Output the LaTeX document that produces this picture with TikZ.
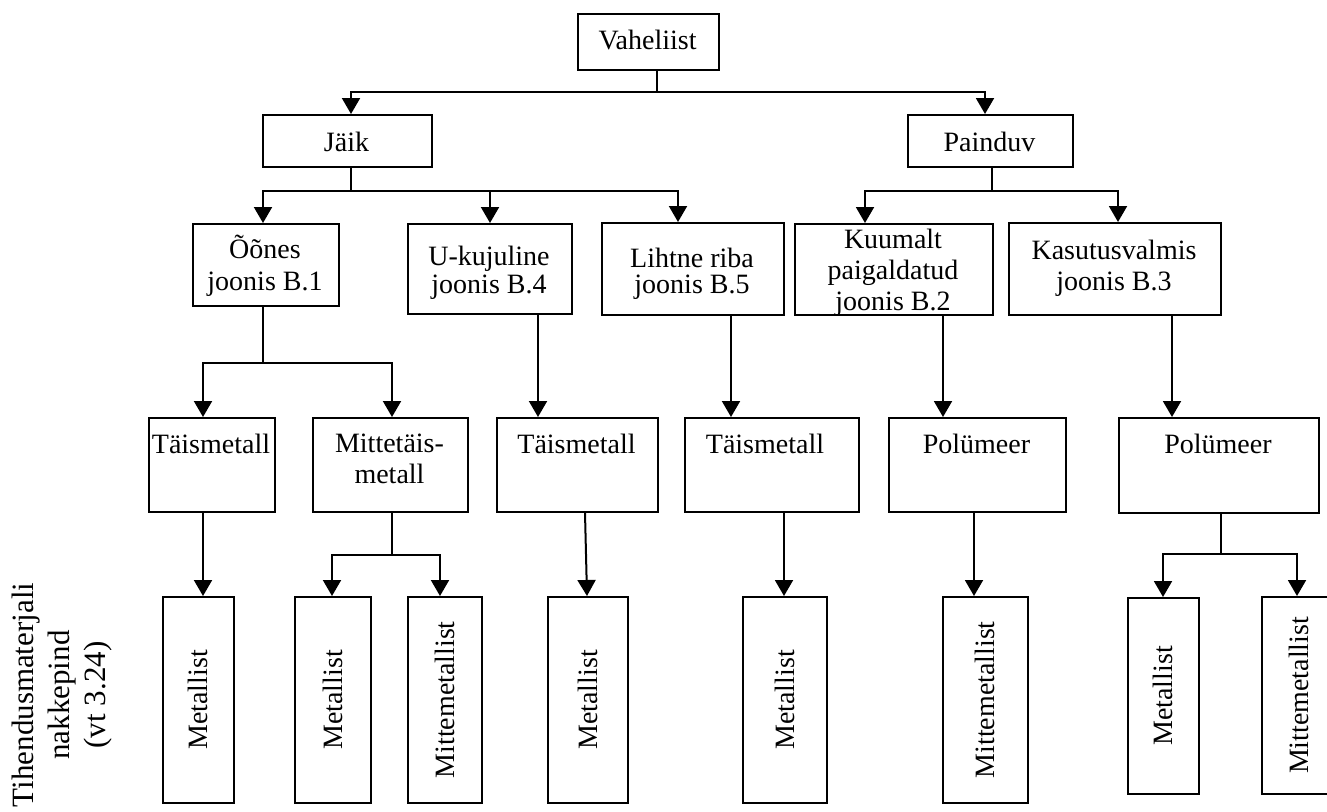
\documentclass[tikz,border=0pt]{standalone}
\usepackage{fontspec}
\setmainfont{Liberation Serif}
\usetikzlibrary{arrows.meta,calc}
\tikzset{
  bx/.style={draw, line width=1.8pt, inner sep=0pt},
  tx/.style={inner sep=0pt, align=center, font=\fontsize{28}{31}\selectfont},
  ln/.style={line width=1.8pt},
  ar/.style={line width=2pt, -{Triangle[width=18pt,length=16pt]}},
}
\newcommand\bxx[6]{\node[bx,minimum width={#4-#2},minimum height={#5-#3},anchor=north west] (#1) at (#2,#3) {#6};}
\newcommand\vtxt[1]{\fontsize{28}{31}\selectfont\rotatebox{90}{#1}}
\begin{document}
\begin{tikzpicture}[x=1pt,y=-1pt]
\useasboundingbox (0,0) rectangle (1327,811);
% ---------- boxes ----------
\bxx{vah}{577}{13}{718}{69}{}
\bxx{jaik}{262}{114}{431}{166}{}
\bxx{pain}{907}{114}{1072}{166}{}
\bxx{oon}{192}{223}{338}{305}{}
\bxx{uk}{407}{223}{571}{313}{}
\bxx{lr}{601}{222}{783}{314}{}
\bxx{kuu}{794}{223}{992}{314}{}
\bxx{kas}{1008}{222}{1220}{314}{}
\bxx{t1}{148}{417}{274}{511}{}
\bxx{mt}{312}{417}{467}{511}{}
\bxx{t3}{496}{417}{657}{511}{}
\bxx{t4}{684}{417}{858}{511}{}
\bxx{p5}{888}{417}{1065}{511}{}
\bxx{p6}{1118}{417}{1318}{512}{}
\bxx{m1}{162}{596}{233}{802}{\vtxt{Metallist}}
\bxx{m2}{294}{596}{370}{802}{\vtxt{Metallist}}
\bxx{mm1}{407}{596}{481}{802}{\vtxt{Mittemetallist}}
\bxx{m3}{547}{596}{627}{802}{\vtxt{Metallist}}
\bxx{m4}{742}{596}{826}{802}{\vtxt{Metallist}}
\bxx{mm2}{942}{596}{1027}{802}{\vtxt{Mittemetallist}}
\bxx{m5}{1127}{597}{1198}{793}{\vtxt{Metallist}}
\bxx{mm3}{1261}{596}{1335}{793}{\vtxt{Mittemetallist}}
% ---------- box texts (anchor base = last line) ----------
\node[tx,anchor=base] (vah-t) at (647.5,49) {Vaheliist};
\node[tx,anchor=base] (jaik-t) at (346.5,151) {Jäik};
\node[tx,anchor=base] (pain-t) at (989.5,151) {Painduv};
\node[tx,anchor=base,font=\fontsize{28}{32}\selectfont] (oon-t) at (265,290) {Õõnes\\joonis B.1};
\node[tx,anchor=base,font=\fontsize{28}{28}\selectfont] (uk-t) at (489,293) {U-kujuline\\joonis B.4};
\node[tx,anchor=base,font=\fontsize{28}{26}\selectfont] (lr-t) at (692,293) {Lihtne riba\\joonis B.5};
\begin{scope}
\clip (794,223) rectangle (992,314);
\node[tx,anchor=base] (kuu-t) at (893,310) {Kuumalt\\paigaldatud\\joonis B.2};
\end{scope}
\node[tx,anchor=base] (kas-t) at (1114,290) {Kasutusvalmis\\joonis B.3};
\node[tx,anchor=base] (t1-t) at (211,453) {Täismetall};
\node[tx,anchor=base] (mt-t) at (389.5,483) {Mittetäis-\\metall};
\node[tx,anchor=base] (t3-t) at (576.5,453) {Täismetall};
\node[tx,anchor=base] (t4-t) at (765,453) {Täismetall};
\node[tx,anchor=base] (p5-t) at (976.5,453) {Polümeer};
\node[tx,anchor=base] (p6-t) at (1218,453) {Polümeer};
% left label
\node[inner sep=0pt, align=center, rotate=90, font=\fontsize{31}{36}\selectfont] (side) at (62,695) {Tihendusmaterjali\\nakkepind\\(vt 3.24)};
% ---------- junction x positions ----------
\coordinate (jV) at (657,92);
\coordinate (jJ) at (351,191);
\coordinate (jP) at (992,191);
\coordinate (jO) at (263,363);
\coordinate (jM) at (392,555);
\coordinate (jQ) at (1221,554);
\coordinate (xa) at (351,0);
\coordinate (xb) at (985,0);
\coordinate (xc) at (490,0);
\coordinate (xd) at (678,0);
\coordinate (xe) at (865,0);
\coordinate (xf) at (1118,0);
\coordinate (xg) at (203,0);
\coordinate (xh) at (538,0);
\coordinate (xi) at (731,0);
\coordinate (xj) at (943,0);
\coordinate (xk) at (1172,0);
\coordinate (xl) at (585,0);
\coordinate (xl2) at (587,0);
\coordinate (xm) at (784,0);
\coordinate (xn) at (974,0);
\coordinate (xo) at (332,0);
\coordinate (xp) at (440,0);
\coordinate (xq) at (1163,0);
\coordinate (xr) at (1297,0);
% ---------- connectors ----------
\draw[ln, line width=1.5pt] (vah.south -| jV) -- (jV);
\draw[ar] (jV) -| (jaik.north -| xa);
\draw[ar] (jV) -| (pain.north -| xb);
\draw[ln, line width=1.5pt] (jaik.south -| jJ) -- (jJ);
\draw[ar] (jJ) -| (oon.north -| jO);
\draw[ar] (jJ) -| (uk.north -| xc);
\draw[ar] (jJ) -| (lr.north -| xd);
\draw[ln, line width=1.5pt] (pain.south -| jP) -- (jP);
\draw[ar] (jP) -| (kuu.north -| xe);
\draw[ar] (jP) -| (kas.north -| xf);
\draw[ln, line width=1.5pt] (oon.south -| jO) -- (jO);
\draw[ar] (jO) -| (t1.north -| xg);
\draw[ar] (jO) -| (mt.north -| jM);
\draw[ar] (uk.south -| xh) -- (t3.north -| xh);
\draw[ar] (lr.south -| xi) -- (t4.north -| xi);
\draw[ar] (kuu.south -| xj) -- (p5.north -| xj);
\draw[ar] (kas.south -| xk) -- (p6.north -| xk);
\draw[ar] (t1.south -| xg) -- (m1.north -| xg);
\draw[ln, line width=1.5pt] (mt.south -| jM) -- (jM);
\draw[ar] (jM) -| (m2.north -| xo);
\draw[ar] (jM) -| (mm1.north -| xp);
\draw[ar] (t3.south -| xl) -- (m3.north -| xl2);
\draw[ar] (t4.south -| xm) -- (m4.north -| xm);
\draw[ar] (p5.south -| xn) -- (mm2.north -| xn);
\draw[ln, line width=1.5pt] (p6.south -| jQ) -- (jQ);
\draw[ar] (jQ) -| (m5.north -| xq);
\draw[ar] (jQ) -| (mm3.north -| xr);
\end{tikzpicture}
\end{document}
